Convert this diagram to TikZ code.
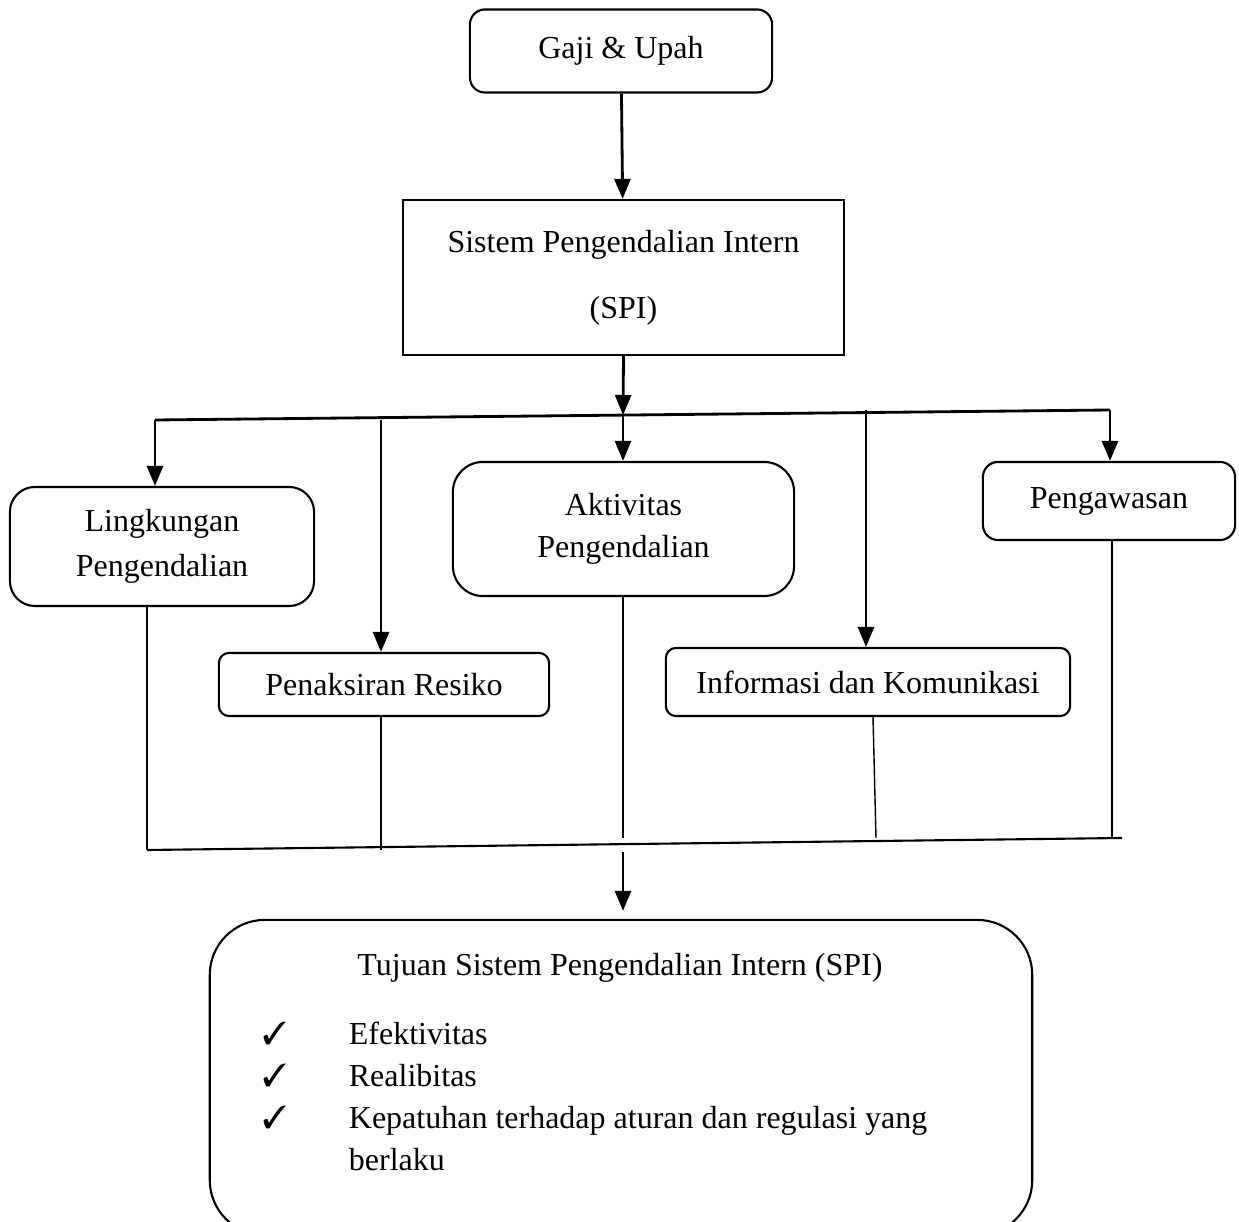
\documentclass[tikz,border=0pt]{standalone}
\usepackage{amsmath,amssymb}
\usepackage{pifont}
\usepackage{fontspec}
\setmainfont{Liberation Serif}
\usepackage{tikz}
\usetikzlibrary{arrows.meta, positioning, calc}

\begin{document}
\begin{tikzpicture}[
  x=0.01cm, y=-0.01cm,
  rb/.style={rectangle, draw, line width=0.6pt, align=center,
             rounded corners=#1, font=\fontsize{9.1}{12}\selectfont},
  rb/.default=0.15cm,
  sb/.style={rectangle, draw, line width=0.6pt, align=center,
             font=\fontsize{9.1}{12}\selectfont},
  txt/.style={inner sep=0pt, align=left, font=\fontsize{9.1}{12}\selectfont},
  arr/.style={-{Triangle[length=0.2cm,width=0.16cm]}, line width=0.8pt},
  bus/.style={line width=0.8pt},
  leg/.style={line width=0.4pt}
]
\useasboundingbox (0,0) rectangle (1239,1222);
% Top of the chart
\node[rb, minimum width=3.02cm, minimum height=0.83cm] (gaji) at (621,51) {Gaji \& Upah};
\node[sb, minimum width=4.41cm, minimum height=1.55cm] (spi) at (623.5,277.5)
  {Sistem Pengendalian Intern\\[0.24cm](SPI)};

% Five components
\node[rb=0.25cm, minimum width=3.04cm, minimum height=1.19cm] (ling) at (162,546.5)
  {Lingkungan\\[0.03cm]Pengendalian};
\node[rb=0.1cm, minimum width=3.30cm, minimum height=0.63cm] (pen) at (384,684.5)
  {Penaksiran Resiko};
\node[rb=0.3cm, minimum width=3.41cm, minimum height=1.34cm] (akt) at (623.5,529)
  {Aktivitas\\[0cm]Pengendalian};
\node[rb=0.1cm, minimum width=4.04cm, minimum height=0.68cm] (inf) at (868,682)
  {Informasi dan Komunikasi};
\node[rb, minimum width=2.52cm, minimum height=0.78cm] (peng) at (1109,501)
  {Pengawasan};

% Goal box
\node[rb=0.55cm, minimum width=8.22cm, minimum height=3.15cm] (tujuan) at (621,1077.5) {};
\node[txt] (tjtitle) at (620,968) {Tujuan Sistem Pengendalian Intern (SPI)};
\node[txt, anchor=west] (tjlist) at (262,1099)
  {\begin{tabular}{@{}l@{\hspace{0.62cm}}l@{}}
   \ding{51} & Efektivitas\\
   \ding{51} & Realibitas\\
   \ding{51} & Kepatuhan terhadap aturan dan regulasi yang\\
             & berlaku
   \end{tabular}};

% Bus points
\coordinate (t1) at (155,420); \coordinate (t2) at (381,420);
\coordinate (t3) at (623,415); \coordinate (t4) at (866,410);
\coordinate (t5) at (1110,410);
\coordinate (b1) at (147,850); \coordinate (b2) at (381,850);
\coordinate (b3) at (623,838); \coordinate (b4) at (876,838);
\coordinate (b5) at (1112,838); \coordinate (bR) at (1122,838);
\coordinate (b6) at (623,852);

% Arrows
\draw[arr] (gaji) -- (spi);
\draw[arr] (spi.south) -- (t3);
\draw[bus] (t1) -- (t5);
\draw[arr] (t1) -- (t1 |- ling.north);
\draw[arr] (t2) -- (t2 |- pen.north);
\draw[arr] (t3) -- (t3 |- akt.north);
\draw[arr] (t4) -- (t4 |- inf.north);
\draw[arr] (t5) -- (t5 |- peng.north);
% Lines to the bottom bus
\draw[leg] (b1 |- ling.south) -- (b1);
\draw[leg] (b2 |- pen.south) -- (b2);
\draw[leg] (b3 |- akt.south) -- (b3);
\draw[leg] ([xshift=0.05cm]inf.south) -- (b4);
\draw[leg] (b5 |- peng.south) -- (b5);
\draw[line width=0.6pt] (b1) -- (bR);
\draw[arr, shorten >=0.08cm] (b6) -- (b6 |- tujuan.north);
\end{tikzpicture}
\end{document}
